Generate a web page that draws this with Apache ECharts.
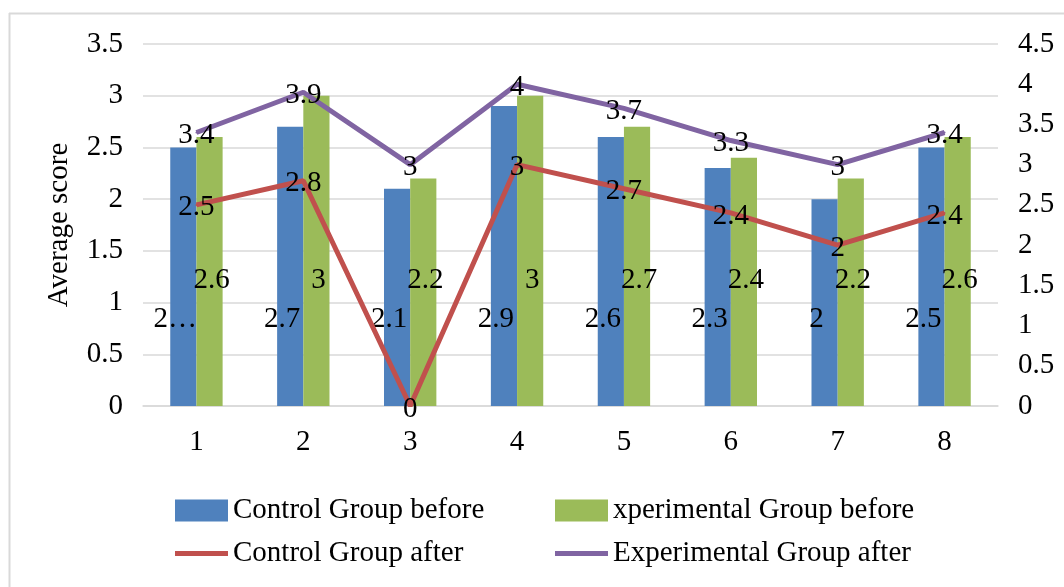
<!DOCTYPE html>
<html>
<head>
<meta charset="utf-8">
<script src="https://cdn.jsdelivr.net/npm/echarts@6/dist/echarts.min.js"></script>
<style>html,body{margin:0;padding:0;background:#fff}#c{width:1064px;height:587px}</style>
</head>
<body>
<div id="c"></div>
<script>
const categories = ['1','2','3','4','5','6','7','8'];
const controlBefore = [2.5, 2.7, 2.1, 2.9, 2.6, 2.3, 2.0, 2.5];
const experimentalBefore = [2.6, 3, 2.2, 3, 2.7, 2.4, 2.2, 2.6];
const controlAfter = [2.5, 2.8, 0, 3, 2.7, 2.4, 2, 2.4];
const experimentalAfter = [3.4, 3.9, 3, 4, 3.7, 3.3, 3, 3.4];
const names = ['Control Group before', 'xperimental Group before', 'Control Group after', 'Experimental Group after'];

const FONT = 'Liberation Serif';
const FS = 29;
const txt = { fontFamily: FONT, fontSize: FS, color: '#000' };

const chart = echarts.init(document.getElementById('c'));
chart.setOption({
  animation: false,
  backgroundColor: '#fff',
  textStyle: { fontFamily: FONT },
  graphic: [
    { type: 'line', shape: { x1: 9, y1: 13.5, x2: 1064, y2: 13.5 }, style: { stroke: '#d9d9d9', lineWidth: 2 } },
    { type: 'line', shape: { x1: 9.5, y1: 13, x2: 9.5, y2: 587 }, style: { stroke: '#d9d9d9', lineWidth: 2 } }
  ],
  grid: { left: 143, right: 66, top: 44, bottom: 181 },
  legend: [
    { data: [names[0]], left: 175, top: 496, padding: 0, itemWidth: 53, itemHeight: 22, icon: 'rect', textStyle: txt },
    { data: [names[1]], left: 555, top: 496, padding: 0, itemWidth: 53, itemHeight: 22, icon: 'rect', textStyle: txt },
    { data: [names[2]], left: 175, top: 539, padding: 0, itemWidth: 53, itemHeight: 5, icon: 'rect', textStyle: txt },
    { data: [names[3]], left: 555, top: 539, padding: 0, itemWidth: 53, itemHeight: 5, icon: 'rect', textStyle: txt }
  ],
  xAxis: {
    type: 'category', data: categories,
    axisLine: { lineStyle: { color: '#d9d9d9', width: 1.5 } },
    axisTick: { show: false },
    axisLabel: Object.assign({ margin: 22 }, txt)
  },
  yAxis: [
    {
      type: 'value', min: 0, max: 3.5, interval: 0.5,
      name: 'Average score', nameLocation: 'middle', nameGap: 69, nameRotate: 90,
      nameTextStyle: txt,
      axisLabel: Object.assign({ margin: 20 }, txt),
      splitLine: { lineStyle: { color: '#d9d9d9', width: 1.5 } },
      axisLine: { show: false }, axisTick: { show: false }
    },
    {
      type: 'value', min: 0, max: 4.5, interval: 0.5,
      axisLabel: Object.assign({ margin: 20 }, txt),
      splitLine: { show: false },
      axisLine: { show: false }, axisTick: { show: false }
    }
  ],
  series: [
    {
      name: names[0], type: 'bar', data: controlBefore, barGap: '0%', barCategoryGap: '51%',
      itemStyle: { color: '#4F81BD' },
      label: {
        show: true, position: 'insideBottom', distance: 72, offset: [-8, 0],
        fontFamily: FONT, fontSize: FS, color: '#000',
        formatter: p => p.dataIndex === 0 ? String(p.value).charAt(0) + '…' : String(p.value)
      }
    },
    {
      name: names[1], type: 'bar', data: experimentalBefore, barGap: '0%', barCategoryGap: '51%',
      itemStyle: { color: '#9BBB59' },
      label: { show: true, position: 'insideBottom', distance: 111, offset: [2, 0], fontFamily: FONT, fontSize: FS, color: '#000' }
    },
    {
      name: names[2], type: 'line', yAxisIndex: 1, data: controlAfter,
      symbol: 'circle', symbolSize: 2, showSymbol: true,
      lineStyle: { color: '#C0504D', width: 5 }, itemStyle: { color: '#C0504D' },
      label: { show: true, position: 'inside', offset: [0, 3], fontFamily: FONT, fontSize: FS, color: '#000' }
    },
    {
      name: names[3], type: 'line', yAxisIndex: 1, data: experimentalAfter,
      symbol: 'circle', symbolSize: 2, showSymbol: true,
      lineStyle: { color: '#8064A2', width: 5 }, itemStyle: { color: '#8064A2' },
      label: { show: true, position: 'inside', offset: [0, 3], fontFamily: FONT, fontSize: FS, color: '#000' }
    }
  ]
});
</script>
</body>
</html>
